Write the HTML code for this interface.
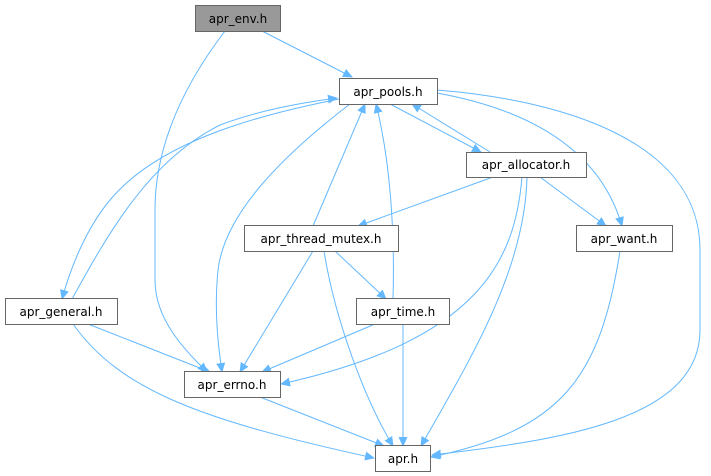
<!DOCTYPE html>
<html><head><meta charset="utf-8"><style>
html,body{margin:0;padding:0;background:#fff;width:711px;height:476px;overflow:hidden}
text{font-family:"DejaVu Sans","Liberation Sans",sans-serif;font-size:12px;fill:#000}
</style></head><body>
<svg width="711" height="476" viewBox="0 0 711 476" xmlns="http://www.w3.org/2000/svg">
<defs><marker id="a" viewBox="0 0 10 10" refX="9" refY="5" markerWidth="10" markerHeight="10" markerUnits="userSpaceOnUse" orient="auto"><path d="M0,0.5 L10,5 L0,9.5 z" fill="#63b8ff"/></marker></defs>
<g fill="none" stroke="#63b8ff" stroke-width="1" marker-end="url(#a)">
<path d="M262,31 L352,77"/>
<path d="M225,31 C180,90 155,150 155,210 L155,280 C155,320 185,350 207,372"/>
<path d="M339,99 C260,115 160,140 110,200 C85,230 70,270 62,299"/>
<path d="M72,299 C110,230 150,160 220,125 C260,110 300,103 337,98"/>
<path d="M350,104 C290,150 225,210 218,270 C214,310 218,345 222,372"/>
<path d="M313,226 L365,104"/>
<path d="M393,299 C395,230 390,160 376,104"/>
<path d="M390,104 L481,152"/>
<path d="M490,152 L412,104"/>
<path d="M437,93 C530,110 600,150 622,226"/>
<path d="M437,90 C560,100 700,140 700,250 L700,330 C700,420 560,440 432,455"/>
<path d="M493,177 L358,226"/>
<path d="M540,177 L606,226"/>
<path d="M522,177 C515,260 480,340 281,384"/>
<path d="M527,177 C525,270 470,360 421,446"/>
<path d="M313,251 L240,372"/>
<path d="M335,251 L386,299"/>
<path d="M324,251 C335,320 365,400 393,446"/>
<path d="M88,324 L210,372"/>
<path d="M73,324 C120,390 200,420 374,458"/>
<path d="M375,324 L262,372"/>
<path d="M403,324 L403,446"/>
<path d="M260,397 L384,446"/>
<path d="M620,251 C600,380 560,430 431,457"/>
</g>
<g stroke="#666" stroke-width="1">
<rect x="195.5" y="5.5" width="85" height="26" fill="#999"/>
<rect x="339.5" y="78.5" width="98" height="26" fill="#fff"/>
<rect x="466.5" y="152.5" width="120" height="25" fill="#fff"/>
<rect x="244.5" y="225.5" width="154" height="26" fill="#fff"/>
<rect x="576.5" y="225.5" width="96" height="26" fill="#fff"/>
<rect x="5.5" y="298.5" width="112" height="26" fill="#fff"/>
<rect x="356.5" y="298.5" width="93" height="26" fill="#fff"/>
<rect x="184.5" y="371.5" width="96" height="26" fill="#fff"/>
<rect x="375.5" y="445.5" width="55" height="26" fill="#fff"/>
</g>
<g text-anchor="middle">
<text x="238" y="23">apr_env.h</text>
<text x="388" y="96">apr_pools.h</text>
<text x="526" y="169">apr_allocator.h</text>
<text x="321" y="243">apr_thread_mutex.h</text>
<text x="624" y="243">apr_want.h</text>
<text x="61" y="316">apr_general.h</text>
<text x="403" y="316">apr_time.h</text>
<text x="232" y="389">apr_errno.h</text>
<text x="403" y="463">apr.h</text>
</g>
</svg>
</body></html>
